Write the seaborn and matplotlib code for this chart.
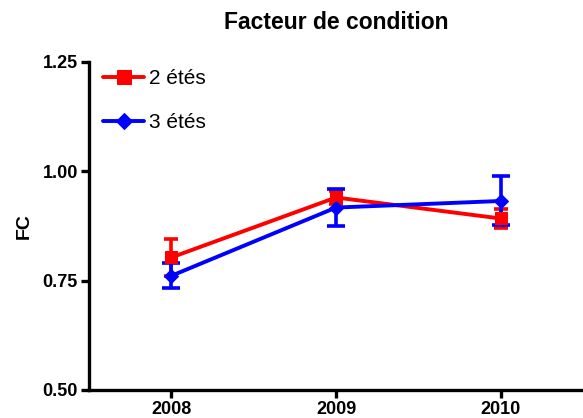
import pandas as pd
import seaborn as sns
import matplotlib.pyplot as plt

years = [2008, 2009, 2010]
fc_2 = [0.803, 0.940, 0.892]
err_2 = [0.043, 0.015, 0.022]
fc_3 = [0.761, 0.917, 0.932]
err_3 = [0.029, 0.042, 0.056]

df = pd.DataFrame({
    'Année': years * 2,
    'FC': fc_2 + fc_3,
    'err': err_2 + err_3,
    'Groupe': ['2 étés'] * 3 + ['3 étés'] * 3,
})

sns.set_style('ticks')
plt.rcParams['font.family'] = ['Liberation Sans', 'DejaVu Sans']
for k in ['text.color', 'axes.labelcolor', 'xtick.color', 'ytick.color', 'axes.edgecolor']:
    plt.rcParams[k] = 'black'

fig = plt.figure(figsize=(5.83, 4.18), dpi=100)
ax = fig.add_axes([0.1527, 0.067, 0.8473, 0.785])

colors = {'2 étés': '#ff0000', '3 étés': '#0000ff'}
markers = {'2 étés': 's', '3 étés': 'D'}
sizes = {'2 étés': 8.5, '3 étés': 7.5}
caps = {'2 étés': 5, '3 étés': 6.5}

# error bars first, lines on top
for g, sub in df.groupby('Groupe'):
    ax.errorbar(sub['Année'], sub['FC'], yerr=sub['err'], fmt='none',
                ecolor=colors[g], elinewidth=2.6, capsize=caps[g], capthick=2.6)

for g, sub in df.groupby('Groupe'):
    sns.lineplot(data=sub, x='Année', y='FC', color=colors[g], marker=markers[g],
                 markersize=sizes[g], markeredgecolor=colors[g], linewidth=2.8,
                 label=g, ax=ax)

ax.set_xlim(2007.5, 2010.5)
ax.set_ylim(0.5, 1.25)
ax.set_xticks(years)
ax.set_yticks([0.50, 0.75, 1.00, 1.25])
ax.set_yticklabels(['0.50', '0.75', '1.00', '1.25'])
sns.despine(ax=ax)
for s in ['left', 'bottom']:
    ax.spines[s].set_linewidth(2.4)
ax.tick_params(width=2.4, length=6, labelsize=13, pad=2)
for lab in ax.get_xticklabels() + ax.get_yticklabels():
    lab.set_fontweight('bold')

ax.set_xlabel('')
ax.set_ylabel('FC', fontsize=14, fontweight='bold', labelpad=7)
ax.set_title('Facteur de condition', fontsize=16.5, fontweight='bold', pad=24)

ax.legend(loc='upper left', bbox_to_anchor=(-0.009, 1.034), frameon=False,
          fontsize=15, handlelength=1.95, labelspacing=1.18, handletextpad=0.25,
          markerscale=1.15)

fig.savefig('out.png', dpi=100)
